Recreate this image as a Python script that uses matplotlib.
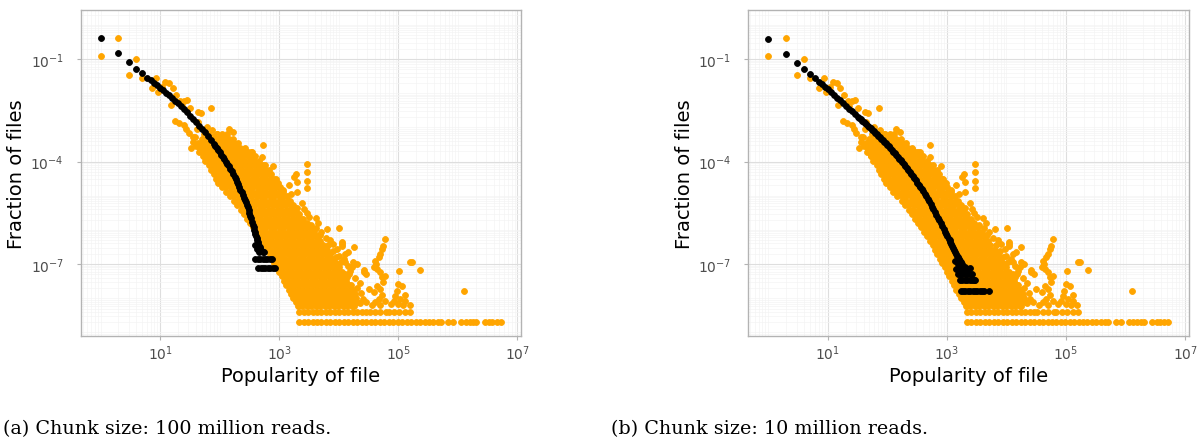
import matplotlib
matplotlib.use('Agg')
import matplotlib.pyplot as plt
import numpy as np
from matplotlib.ticker import FixedLocator, LogLocator, NullFormatter

# all values are log10(popularity), log10(fraction of files)

# observed distribution (same in both panels): scattered points
orange_lx = [0.30, 0.00, 0.60, 0.48, 0.70, 0.86, 0.93, 0.97, 1.03, 1.08, 1.15, 1.21, 1.27, 1.18,
             1.34, 1.40, 1.46, 1.36, 1.50, 1.63, 1.68, 1.86, 1.25, 1.32, 1.40, 1.44, 1.48, 1.55,
             1.59, 1.62, 1.64, 1.78, 1.87, 1.90, 1.95, 2.15, 2.22, 2.09, 1.61, 1.67, 1.73, 1.81,
             1.87, 1.92, 2.41, 2.55, 2.72, 2.71, 2.90, 2.82, 2.18, 1.56, 1.52]
orange_ly = [-0.395, -0.904, -1.00, -1.477, -1.57, -1.85, -1.57, -1.97, -1.83, -1.66, -1.70, -1.85,
             -2.04, -2.35, -2.22, -2.24, -2.20, -2.37, -2.44, -2.54, -2.58, -2.43, -2.82, -2.87,
             -2.94, -3.04, -3.18, -3.28, -3.29, -3.05, -2.85, -3.00, -3.07, -3.24, -3.19, -3.05,
             -3.14, -3.29, -3.55, -3.65, -3.83, -3.90, -4.02, -4.17, -3.63, -3.73, -3.51, -3.87,
             -4.12, -4.29, -3.51, -3.42, -3.60]

# tail of the observed distribution, right of the dense part
tail_lx = [3.47, 3.47, 3.47, 3.47, 3.29, 3.30, 3.30, 3.16, 3.07, 3.25, 3.20, 3.38, 3.30, 3.42,
           3.46, 3.61, 3.66, 3.54, 3.50, 3.80, 4.01, 3.62, 3.70, 3.68, 3.78, 3.86, 3.91, 3.97,
           4.05, 4.25, 4.05, 4.05, 3.82, 3.90, 4.00, 3.95, 4.08, 4.11, 4.16, 4.03, 4.11, 4.24,
           4.26, 4.15, 4.22, 4.19, 4.18, 4.11, 4.14, 4.30, 4.42, 4.42, 4.46, 4.28, 4.35, 4.30,
           4.50, 4.38, 4.40, 4.35, 4.45,
           4.78, 4.74, 4.73, 4.70, 4.67, 4.61, 4.63, 4.59, 4.64, 4.70, 4.73, 4.78, 4.75, 4.64,
           4.70, 4.59, 4.73, 4.78, 4.61, 4.67, 4.55, 4.70,
           5.06, 5.00, 4.97, 4.95, 5.03, 4.92, 5.12, 4.87, 5.00, 5.19, 5.08, 5.12,
           5.02, 5.20, 5.23, 5.37, 6.10]
tail_ly = [-4.07, -4.31, -4.56, -4.78, -4.36, -4.61, -4.90, -4.68, -4.83, -4.45, -4.95, -5.20,
           -5.35, -5.40, -5.50, -5.66, -5.80, -5.87, -5.62, -5.97, -5.94, -5.95, -6.05, -6.15,
           -6.25, -6.30, -6.41, -6.56, -6.41, -6.51, -6.36, -6.46, -6.45, -6.62, -6.75, -6.80,
           -6.85, -6.70, -6.65, -6.95, -6.93, -6.95, -7.00, -7.05, -7.10, -7.19, -7.30, -7.30,
           -7.37, -6.99, -7.16, -7.24, -7.29, -7.40, -7.55, -7.70, -7.73, -7.85, -8.02, -8.15,
           -8.12,
           -6.28, -6.48, -6.56, -6.70, -6.80, -6.90, -6.99, -7.09, -7.14, -7.24, -7.38, -7.34,
           -7.53, -7.63, -7.73, -7.82, -7.92, -8.07, -8.12, -8.02, -8.20, -8.20,
           -7.65, -7.58, -7.78, -7.93, -8.02, -8.07, -8.07, -8.16, -8.16, -8.21, -8.20, -7.90,
           -7.19, -6.94, -6.94, -7.17, -7.78]

# dense part of the observed distribution, one row of points per fraction level
cloud_ly = [-3.20, -3.33, -3.46, -3.59, -3.72, -3.85, -3.98, -4.11, -4.24, -4.37, -4.50, -4.63,
            -4.76, -4.89, -5.02, -5.15, -5.28, -5.41, -5.54, -5.67, -5.80, -5.93, -6.06, -6.19,
            -6.32, -6.45, -6.58, -6.71, -6.84, -6.97, -7.10, -7.23, -7.36, -7.49, -7.62, -7.75,
            -7.88, -8.00, -8.10, -8.22, -8.40, -8.70]
cloud_lx = [
    "1.74 1.81 1.96 2.04 2.12",
    "1.70 1.77 1.85 1.92 2.00 2.08 2.15 2.23",
    "1.64 1.71 1.79 1.86 1.94 2.01 2.09 2.16 2.24 2.31",
    "1.67 1.75 1.82 1.90 1.97 2.05 2.12 2.20 2.27 2.35 2.42",
    "1.66 1.73 1.81 1.88 1.96 2.03 2.11 2.18 2.26 2.33 2.41 2.48 2.52",
    "1.72 1.80 1.87 1.95 2.02 2.10 2.17 2.25 2.32 2.40 2.47 2.55 2.60",
    "1.76 1.83 1.91 1.98 2.06 2.13 2.21 2.28 2.36 2.43 2.51 2.58 2.66",
    "1.82 1.90 1.97 2.05 2.12 2.20 2.27 2.35 2.42 2.50 2.57 2.65 2.72 2.76",
    "1.86 1.93 2.01 2.08 2.16 2.23 2.31 2.38 2.46 2.53 2.61 2.68 2.76 2.83",
    "1.90 1.97 2.05 2.12 2.20 2.27 2.35 2.42 2.50 2.57 2.65 2.72 2.80 2.87",
    "1.94 2.01 2.09 2.16 2.24 2.31 2.39 2.46 2.54 2.61 2.69 2.76 2.84 2.91 2.94",
    "1.98 2.05 2.13 2.20 2.28 2.35 2.43 2.50 2.58 2.65 2.73 2.80 2.88 2.95 2.98",
    "2.04 2.11 2.19 2.26 2.34 2.41 2.49 2.56 2.64 2.71 2.79 2.86 2.94 3.01",
    "2.10 2.17 2.25 2.32 2.40 2.47 2.55 2.62 2.70 2.77 2.85 2.92 3.00 3.07",
    "2.17 2.24 2.32 2.39 2.47 2.54 2.62 2.69 2.77 2.84 2.92 2.99 3.07 3.13",
    "2.24 2.31 2.39 2.46 2.54 2.61 2.69 2.76 2.84 2.91 2.99 3.06 3.14 3.18",
    "2.30 2.37 2.45 2.52 2.60 2.67 2.75 2.82 2.90 2.97 3.05 3.12 3.20 3.23",
    "2.36 2.43 2.51 2.58 2.66 2.73 2.81 2.88 2.96 3.03 3.11 3.18 3.26",
    "2.41 2.48 2.56 2.63 2.71 2.78 2.86 2.93 3.01 3.08 3.16 3.23 3.31 3.34",
    "2.46 2.53 2.61 2.68 2.76 2.83 2.91 2.98 3.06 3.13 3.21 3.28 3.36 3.40",
    "2.51 2.58 2.66 2.73 2.81 2.88 2.96 3.03 3.11 3.18 3.26 3.33 3.41 3.46",
    "2.56 2.63 2.71 2.78 2.86 2.93 3.01 3.08 3.16 3.23 3.31 3.38 3.46 3.53",
    "2.62 2.69 2.77 2.84 2.92 2.99 3.07 3.14 3.22 3.29 3.37 3.44 3.52 3.59",
    "2.67 2.74 2.82 2.89 2.97 3.04 3.12 3.19 3.27 3.34 3.42 3.49 3.57 3.64",
    "2.72 2.79 2.87 2.94 3.02 3.09 3.17 3.24 3.32 3.39 3.47 3.54 3.62 3.69",
    "2.76 2.83 2.91 2.98 3.06 3.13 3.21 3.28 3.36 3.43 3.51 3.58 3.66 3.73",
    "2.80 2.87 2.95 3.02 3.10 3.17 3.25 3.32 3.40 3.47 3.55 3.62 3.70 3.77 3.80",
    "2.84 2.91 2.99 3.06 3.14 3.21 3.29 3.36 3.44 3.51 3.59 3.66 3.74 3.81 3.85",
    "2.88 2.95 3.03 3.10 3.18 3.25 3.33 3.40 3.48 3.55 3.63 3.70 3.78 3.85 3.90",
    "2.92 2.99 3.07 3.14 3.22 3.29 3.37 3.44 3.52 3.59 3.67 3.74 3.82 3.89 3.95",
    "2.96 3.03 3.11 3.18 3.26 3.33 3.41 3.48 3.56 3.63 3.71 3.78 3.86 3.93 4.00",
    "3.00 3.07 3.15 3.22 3.30 3.37 3.45 3.52 3.60 3.67 3.75 3.82 3.90 3.97 4.05",
    "3.04 3.11 3.19 3.26 3.34 3.41 3.49 3.56 3.64 3.71 3.79 3.86 3.94 4.01 4.09",
    "3.08 3.15 3.23 3.30 3.38 3.45 3.53 3.60 3.68 3.75 3.83 3.90 3.98 4.05 4.13",
    "3.12 3.19 3.27 3.34 3.42 3.49 3.57 3.64 3.72 3.79 3.87 3.94 4.02 4.09 4.17 4.20",
    "3.16 3.23 3.31 3.38 3.46 3.53 3.61 3.68 3.76 3.83 3.91 3.98 4.06 4.13 4.21 4.24",
    "3.20 3.27 3.35 3.42 3.50 3.57 3.65 3.72 3.80 3.87 3.95 4.02 4.10 4.17 4.25 4.27",
    "3.24 3.31 3.39 3.46 3.54 3.61 3.69 3.76 3.84 3.91 3.99 4.06 4.14 4.21 4.29",
    "3.28 3.35 3.43 3.50 3.58 3.65 3.73 3.80 3.88 3.95 4.03 4.10 4.18 4.25 4.31",
    "3.32 3.39 3.47 3.54 3.62 3.69 3.77 3.84 3.92 3.99 4.07 4.14 4.22 4.25",
    "3.34 3.41 3.49 3.56 3.64 3.71 3.79 3.86 3.94 4.01 4.09 4.16 4.24 4.31 4.39 4.46 "
    "4.52 4.61 4.70 4.79 4.84 4.93 5.02 5.11 5.20",
    "3.34 3.41 3.49 3.56 3.64 3.71 3.79 3.86 3.94 4.01 4.09 4.16 4.24 4.31 4.39 4.46 "
    "4.54 4.61 4.69 4.76 4.84 4.91 4.99 5.06 5.14 5.21 5.29 5.36 5.44 5.51 5.59 5.66 5.71 "
    "5.84 5.92 6.06 6.13 6.20 6.26 6.31 6.45 6.52 6.58 6.65 6.72",
]

# chunk model, 100 million reads
model_a_lx = [0.00, 0.301, 0.477, 0.602, 0.699, 0.778, 0.85, 0.90, 0.95, 1.00, 1.05, 1.10, 1.15,
              1.20, 1.25, 1.30, 1.35, 1.40, 1.45, 1.50, 1.55, 1.60, 1.65, 1.70, 1.75, 1.80, 1.85,
              1.90, 1.925, 1.95, 1.975, 2.00, 2.025, 2.05, 2.075, 2.10, 2.125, 2.15, 2.175, 2.20,
              2.225, 2.25, 2.27, 2.29, 2.31, 2.33, 2.35, 2.37, 2.39, 2.41, 2.425, 2.44, 2.455,
              2.47, 2.485, 2.50, 2.515, 2.53, 2.545, 2.56, 2.57, 2.58, 2.59, 2.60, 2.61, 2.62,
              2.63, 2.64, 2.65, 2.66, 2.67, 2.68, 2.69, 2.70, 2.62, 2.66, 2.72, 2.75, 2.60]
model_a_ly = [-0.395, -0.833, -1.097, -1.283, -1.42, -1.546, -1.62, -1.69, -1.76, -1.835, -1.91,
              -1.985, -2.06, -2.14, -2.22, -2.30, -2.38, -2.47, -2.56, -2.655, -2.75, -2.85, -2.95,
              -3.05, -3.15, -3.255, -3.36, -3.48, -3.54, -3.60, -3.665, -3.73, -3.795, -3.86,
              -3.93, -4.00, -4.07, -4.14, -4.215, -4.29, -4.37, -4.45, -4.52, -4.59, -4.665,
              -4.74, -4.82, -4.90, -4.985, -5.07, -5.13, -5.19, -5.265, -5.34, -5.42, -5.50,
              -5.58, -5.66, -5.755, -5.85, -5.925, -6.00, -6.06, -6.12, -6.18, -6.24, -6.30,
              -6.36, -6.41, -6.46, -6.505, -6.55, -6.585, -6.62, -6.55, -6.64, -6.66, -6.65, -6.45]
model_a_row_ly = [-6.84, -7.13]
model_a_row_lx = ["2.60 2.64 2.68 2.72 2.76 2.80 2.84 2.88",
                  "2.65 2.69 2.73 2.77 2.81 2.85 2.89 2.93"]

# chunk model, 10 million reads
model_b_lx = [0.00, 0.301, 0.477, 0.602, 0.699, 0.778, 0.85, 0.90, 0.95, 1.00, 1.05, 1.10, 1.15,
              1.20, 1.25, 1.30, 1.35, 1.40, 1.45, 1.50, 1.525, 1.55, 1.575, 1.60, 1.625, 1.65,
              1.675, 1.70, 1.725, 1.75, 1.775, 1.80, 1.825, 1.85, 1.875, 1.90, 1.925, 1.95,
              1.975, 2.00, 2.025, 2.05, 2.075, 2.10, 2.125, 2.15, 2.175, 2.20, 2.225, 2.25,
              2.275, 2.30, 2.325, 2.35, 2.375, 2.40, 2.425, 2.45, 2.475, 2.50, 2.525, 2.55,
              2.575, 2.60, 2.625, 2.65, 2.675, 2.70, 2.725, 2.75, 2.775, 2.80, 2.825, 2.85,
              2.875, 2.90, 2.925, 2.95, 2.97, 2.99, 3.01, 3.03, 3.045, 3.06, 3.075, 3.09, 3.105,
              3.12, 3.135, 3.15, 3.165, 3.18, 3.195, 3.21, 3.225, 3.24,
              3.14, 3.18, 3.22, 3.26, 3.30, 3.34, 3.38, 3.16, 3.20, 3.26]
model_b_ly = [-0.42, -0.85, -1.11, -1.29, -1.44, -1.56, -1.66, -1.735, -1.81, -1.89, -1.97, -2.05,
              -2.13, -2.21, -2.29, -2.37, -2.45, -2.53, -2.61, -2.685, -2.72, -2.76, -2.80, -2.835,
              -2.87, -2.91, -2.95, -2.99, -3.03, -3.07, -3.11, -3.155, -3.20, -3.24, -3.285,
              -3.33, -3.375, -3.42, -3.47, -3.515, -3.56, -3.61, -3.66, -3.71, -3.76, -3.81,
              -3.86, -3.915, -3.97, -4.02, -4.08, -4.135, -4.19, -4.25, -4.31, -4.37, -4.43,
              -4.49, -4.55, -4.615, -4.68, -4.74, -4.81, -4.875, -4.94, -5.01, -5.09, -5.165,
              -5.24, -5.32, -5.40, -5.48, -5.56, -5.64, -5.725, -5.81, -5.895, -5.98, -6.05,
              -6.12, -6.19, -6.26, -6.31, -6.36, -6.42, -6.48, -6.54, -6.60, -6.65, -6.70,
              -6.75, -6.80, -6.84, -6.88, -6.915, -6.95,
              -6.90, -7.00, -7.05, -7.00, -7.10, -7.15, -7.13, -7.15, -7.20, -7.20]
model_b_row_ly = [-7.30, -7.47, -7.78]
model_b_row_lx = ["3.18 3.22 3.26 3.30 3.34 3.38 3.42",
                  "3.22 3.26 3.30 3.34 3.38 3.42 3.46 3.48",
                  "3.23 3.27 3.31 3.35 3.39 3.43 3.47 3.51 3.55 3.59 3.62 3.70"]

captions = ["(a) Chunk size: 100 million reads.", "(b) Chunk size: 10 million reads."]

ORANGE = '#FFA500'
W, H = 1203, 439


def rows_to_points(levels, rows):
    xs, ys = [], []
    for ly, row in zip(levels, rows):
        for v in row.split():
            xs.append(float(v))
            ys.append(ly)
    return np.array(xs), np.array(ys)


def dots(ax, lx, ly, color):
    ax.scatter(10.0 ** np.asarray(lx), 10.0 ** np.asarray(ly), s=18, c=color,
               edgecolors=color, linewidths=0.6, zorder=3)


cloud_x, cloud_y = rows_to_points(cloud_ly, cloud_lx)

fig = plt.figure(figsize=(W / 100, H / 100), dpi=100)

panels = [
    (80.5, model_a_lx, model_a_ly, model_a_row_ly, model_a_row_lx),
    (748.2, model_b_lx, model_b_ly, model_b_row_ly, model_b_row_lx),
]

for i, (left, mlx, mly, rly, rlx) in enumerate(panels):
    ax = fig.add_axes([left / W, (H - 337) / H, 440.5 / W, 326 / H])
    ax.set_xscale('log')
    ax.set_yscale('log')

    dots(ax, orange_lx, orange_ly, ORANGE)
    dots(ax, tail_lx, tail_ly, ORANGE)
    dots(ax, cloud_x, cloud_y, ORANGE)
    row_x, row_y = rows_to_points(rly, rlx)
    dots(ax, mlx, mly, 'black')
    dots(ax, row_x, row_y, 'black')

    ax.set_xlim(10 ** -0.336, 10 ** 7.06)
    ax.set_ylim(10 ** -9.105, 10 ** 0.433)

    ax.xaxis.set_major_locator(FixedLocator([1e1, 1e3, 1e5, 1e7]))
    ax.yaxis.set_major_locator(FixedLocator([1e-7, 1e-4, 1e-1]))
    ax.set_xticklabels([r'$10^{1}$', r'$10^{3}$', r'$10^{5}$', r'$10^{7}$'])
    ax.set_yticklabels([r'$10^{-7}$', r'$10^{-4}$', r'$10^{-1}$'])
    ax.xaxis.set_minor_locator(LogLocator(base=10, subs=np.arange(1, 10), numticks=50))
    ax.yaxis.set_minor_locator(LogLocator(base=10, subs=np.arange(1, 10), numticks=50))
    ax.xaxis.set_minor_formatter(NullFormatter())
    ax.yaxis.set_minor_formatter(NullFormatter())

    ax.grid(True, which='major', color='#DEDEDE', linewidth=0.8, zorder=0)
    ax.grid(True, which='minor', color='#F4F4F4', linewidth=0.5, zorder=0)
    ax.set_axisbelow(True)
    ax.tick_params(which='major', length=3, width=0.8, color='#B3B3B3',
                   labelcolor='#4D4D4D', labelsize=10, pad=2)
    ax.tick_params(axis='y', which='major', pad=9)
    ax.tick_params(which='minor', length=0)
    for sp in ax.spines.values():
        sp.set_color('#B3B3B3')
        sp.set_linewidth(1.0)

    ax.set_xlabel('Popularity of file', fontsize=14, labelpad=3)
    ax.set_ylabel('Fraction of files', fontsize=14, labelpad=3)

fig.text(3 / W, 1 - 434 / H, captions[0], family='DejaVu Serif', fontsize=13.8, va='baseline')
fig.text(611 / W, 1 - 434 / H, captions[1], family='DejaVu Serif', fontsize=13.8, va='baseline')

fig.savefig('out.png', dpi=100)
